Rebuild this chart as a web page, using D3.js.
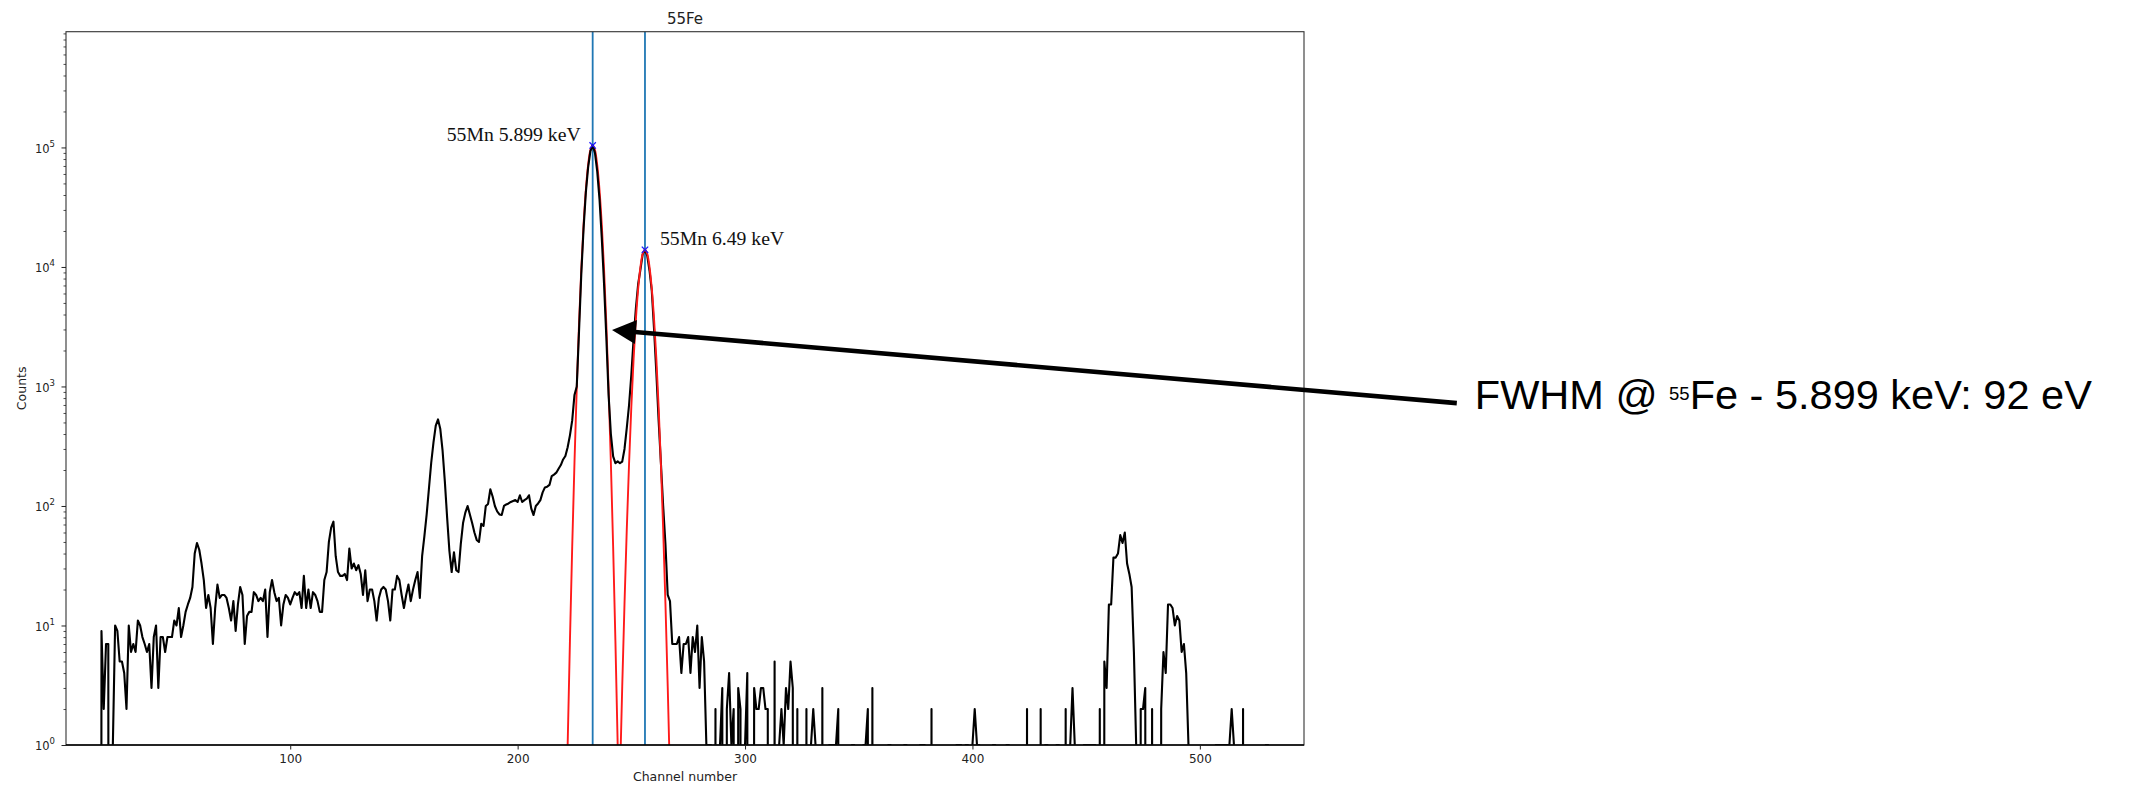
<!DOCTYPE html>
<html>
<head>
<meta charset="utf-8">
<script src="https://cdn.jsdelivr.net/npm/d3@7"></script>
<style>
  body { margin: 0; background: #fff; }
  svg { display: block; }
</style>
</head>
<body>
<svg id="chart" width="2135" height="787"></svg>
<script>
// ---------------- DATA ----------------
const firstChannel = 16;
// counts per channel, starting at channel 16 (0 = empty channel)
const counts = [
  0, 9, 2, 7,                                                   // 16-19
  7, 0, 1, 10, 9, 5, 5, 4, 2, 10,                               // 20-29
  6, 7, 6, 11, 10, 8, 7, 6, 7, 3,                               // 30-39
  8, 10, 3, 8, 8, 6, 8, 8, 8, 11,                               // 40-49
  10, 14, 8, 10, 13, 15, 17, 21, 40, 49,                        // 50-59
  43, 33, 24, 14, 18, 14, 7, 14, 22, 17,                        // 60-69
  18, 18, 17, 14, 11, 16, 9, 15, 21, 18,                        // 70-79
  7, 12, 13, 13, 19, 18, 16, 17, 16, 20,                        // 80-89
  8, 19, 24, 19, 16, 17, 10, 15, 18, 17,                        // 90-99
  15, 17, 19, 18, 19, 14, 26, 14, 20, 14,                       // 100-109
  19, 18, 16, 13, 13, 24, 28, 50, 66, 74,                       // 110-119
  38, 28, 26, 26, 27, 24, 44, 30, 33, 29,                       // 120-129
  32, 27, 18, 29, 16, 20, 20, 16, 11, 17,                       // 130-139
  20, 21, 20, 16, 11, 20, 20, 26, 24, 18,                       // 140-149
  14, 18, 22, 16, 20, 24, 28, 17, 38, 56,                       // 150-159
  85, 140, 230, 340, 470, 530, 440, 290, 160, 80,               // 160-169
  42, 28, 41, 29, 28, 48, 72, 88, 100, 85,                      // 170-179
  72, 60, 52, 50, 71, 68, 100, 104, 138, 120,                   // 180-189
  100, 90, 85, 84, 100, 103, 105, 108, 110, 112,                // 190-199
  108, 123, 108, 112, 115, 123, 95, 84, 100, 105,               // 200-209
  112, 130, 143, 145, 150, 178, 183, 190, 205, 220,             // 210-219
  245, 262, 310, 390, 520, 850, 1000, 2900, 8800, 21000,        // 220-229
  42000, 68000, 93000, 104000, 90000, 63000, 37000, 17500, 7200, 2600, // 230-239
  850, 400, 260, 228, 236, 228, 235, 300, 450, 700,             // 240-249
  1250, 2500, 4500, 7200, 9500, 12800, 13900, 12400, 9300, 6300, // 250-259
  3000, 1300, 520, 230, 100, 48, 18, 16, 7, 7,                  // 260-269
  7, 8, 4, 7, 7, 8, 4, 8, 6, 10,                                // 270-279
  3, 8, 5, 1, 1, 1, 0, 2, 0, 1,                                 // 280-289
  3, 0, 2, 4, 1, 2, 0, 3, 2, 0,                                 // 290-299
  1, 4, 0, 0, 3, 2, 2, 3, 3, 2,                                 // 300-309
  2, 0, 0, 5, 0, 1, 2, 1, 3, 2,                                 // 310-319
  5, 3, 0, 2, 0, 0, 0, 2, 0, 1,                                 // 320-329
  2, 1, 0, 0, 3, 0, 0, 1, 1, 1,                                 // 330-339
  1, 2, 0, 0, 0, 0, 0, 1, 1, 0,                                 // 340-349
  0, 0, 1, 1, 2, 0, 3, 0, 0, 0,                                 // 350-359
  0, 0, 0, 1, 1, 0, 0, 0, 0, 0,                                 // 360-369
  1, 1, 0, 0, 0, 0, 0, 1, 1, 1,                                 // 370-379
  0, 0, 2, 0, 0, 0, 0, 0, 0, 0,                                 // 380-389
  0, 0, 0, 1, 1, 1, 0, 1, 1, 0,                                 // 390-399
  1, 2, 1, 1, 0, 0, 0, 0, 0, 1,                                 // 400-409
  1, 0, 0, 0, 0, 1, 1, 0, 0, 0,                                 // 410-419
  0, 0, 0, 0, 2, 0, 0, 0, 0, 0,                                 // 420-429
  2, 0, 1, 1, 0, 0, 0, 1, 1, 0,                                 // 430-439
  0, 2, 0, 1, 3, 1, 0, 0, 0, 1,                                 // 440-449
  1, 1, 1, 1, 1, 0, 2, 0, 5, 3,                                 // 450-459
  15, 15, 37, 37, 40, 57, 49, 60, 33, 27,                       // 460-469
  21, 6, 1, 0, 2, 2, 3, 0, 0, 2,                                // 470-479
  0, 0, 0, 2, 6, 4, 15, 15, 14, 10,                             // 480-489
  12, 11, 6, 7, 4, 1, 0, 0, 0, 0,                               // 490-499
  0, 0, 0, 0, 0, 0, 0, 1, 1, 1,                                 // 500-509
  1, 1, 1, 1, 2, 1, 0, 0, 0, 2,                                 // 510-519
  0, 0, 0, 0, 0, 0, 0, 0, 0, 1,                                 // 520-529
  1, 0                                                          // 530-531
];

// Gaussian fit curves (red) at integer channels
const fit1Start = 220;
const fit1 = [0.0102, 0.11, 1.0, 7.4, 45.6, 231, 970, 3360, 9600, 22700, 44300, 71400, 95200,
              104700, 95200, 71400, 44300, 22700, 9600, 3360, 970, 231, 45.6, 7.4, 1.0, 0.11, 0.0102];
const fit2Start = 243;
const fit2 = [0.0093, 0.076, 0.53, 3.1, 15.3, 64, 226, 676, 1710, 3640, 6560, 9990, 12860,
              14000, 12860, 9990, 6560, 3640, 1710, 676, 226, 64, 15.3, 3.1, 0.53, 0.076, 0.0093];

// identified peaks
const peakChannels = [233, 256];
const peakCounts = [104000, 13900];
const peakLabels = ["55Mn 5.899 keV", "55Mn 6.49 keV"];

// axis ticks
const xTicks = [100, 200, 300, 400, 500];
const yTickExponents = [0, 1, 2, 3, 4, 5];

// annotation arrow (data coordinates)
const arrowTip = { channel: 241.5, counts: 2970 };
const arrowTail = { channel: 613, counts: 725 };
const fwhmText = { pre: "FWHM @ ", sup: "55", post: "Fe - 5.899 keV: 92 eV" };

const titleText = "55Fe";
const xLabel = "Channel number";
const yLabel = "Counts";

// ---------------- LAYOUT ----------------
const W = 2135, H = 787;
const plot = { left: 66, right: 1304, top: 31.7, bottom: 745 };
const x = d3.scaleLinear().domain([1.4, 545.8]).range([plot.left, plot.right]);
const y = d3.scaleLog().domain([1, 9.3e5]).range([plot.bottom, plot.top]);

const svg = d3.select("#chart");
svg.append("rect").attr("width", W).attr("height", H).attr("fill", "#fff");

svg.append("defs").append("clipPath").attr("id", "plotClip")
  .append("rect")
  .attr("x", plot.left).attr("y", plot.top)
  .attr("width", plot.right - plot.left).attr("height", plot.bottom - plot.top);

const safeY = v => y(v > 0 ? v : 1e-30);

// vertical peak lines
svg.append("g").selectAll("line").data(peakChannels).join("line")
  .attr("x1", d => x(d)).attr("x2", d => x(d))
  .attr("y1", plot.top).attr("y2", plot.bottom)
  .attr("stroke", "#1f77b4").attr("stroke-width", 1.8);

const gData = svg.append("g").attr("clip-path", "url(#plotClip)");

const fitLine = start => d3.line()
  .x((d, i) => x(start + i))
  .y(d => safeY(d))
  .curve(d3.curveCatmullRom);

// red fit 1 (under the spectrum)
gData.append("path").datum(fit1).attr("d", fitLine(fit1Start))
  .attr("fill", "none").attr("stroke", "#ff1a1a").attr("stroke-width", 1.9);

// spectrum
const specLine = d3.line()
  .x((d, i) => x(firstChannel + i))
  .y(d => safeY(d));
gData.append("path").datum(counts).attr("d", specLine)
  .attr("fill", "none").attr("stroke", "#000").attr("stroke-width", 2.1)
  .attr("stroke-linejoin", "round");

// red fit 2 (over the spectrum)
gData.append("path").datum(fit2).attr("d", fitLine(fit2Start))
  .attr("fill", "none").attr("stroke", "#ff1a1a").attr("stroke-width", 1.9);

// peak markers (x)
const mk = svg.append("g");
peakChannels.forEach((c, i) => {
  const px = x(c), py = y(peakCounts[i]), s = 3.2;
  mk.append("path")
    .attr("d", `M${px - s},${py - s}L${px + s},${py + s}M${px - s},${py + s}L${px + s},${py - s}`)
    .attr("stroke", "#1a1aff").attr("stroke-width", 1.3);
});

// peak labels
svg.append("text").attr("x", x(peakChannels[0]) - 12).attr("y", y(peakCounts[0]) - 4)
  .attr("text-anchor", "end")
  .attr("font-family", "'Liberation Serif', 'Times New Roman', serif").attr("font-size", 19.7)
  .attr("fill", "#111").text(peakLabels[0]);
svg.append("text").attr("x", x(peakChannels[1]) + 15).attr("y", y(peakCounts[1]) - 4.5)
  .attr("text-anchor", "start")
  .attr("font-family", "'Liberation Serif', 'Times New Roman', serif").attr("font-size", 19.7)
  .attr("fill", "#111").text(peakLabels[1]);

// frame
svg.append("rect")
  .attr("x", plot.left).attr("y", plot.top)
  .attr("width", plot.right - plot.left).attr("height", plot.bottom - plot.top)
  .attr("fill", "none").attr("stroke", "#333").attr("stroke-width", 1.1);
svg.append("line").attr("x1", plot.left).attr("x2", plot.right)
  .attr("y1", plot.bottom).attr("y2", plot.bottom)
  .attr("stroke", "#000").attr("stroke-width", 1.5);

// x axis
const xAxis = svg.append("g").attr("transform", `translate(0,${plot.bottom})`)
  .call(d3.axisBottom(x).tickValues(xTicks).tickSize(4.5).tickPadding(4.5).tickFormat(d3.format("d")));
xAxis.select(".domain").remove();
xAxis.selectAll("line").attr("stroke", "#222");
xAxis.selectAll("text").attr("font-family", "'DejaVu Sans', sans-serif").attr("font-size", 12).attr("fill", "#222");

// y axis ticks
const yMajors = yTickExponents.map(e => Math.pow(10, e));
const yMinors = [];
for (let e = 0; e <= 5; e++) for (let m = 2; m <= 9; m++) {
  const v = m * Math.pow(10, e);
  if (v <= y.domain()[1]) yMinors.push(v);
}
const yAxisMaj = svg.append("g").attr("transform", `translate(${plot.left},0)`)
  .call(d3.axisLeft(y).tickValues(yMajors).tickSize(4.5).tickFormat(""));
yAxisMaj.select(".domain").remove();
yAxisMaj.selectAll("line").attr("stroke", "#222");
const yAxisMin = svg.append("g").attr("transform", `translate(${plot.left},0)`)
  .call(d3.axisLeft(y).tickValues(yMinors).tickSize(2.5).tickFormat(""));
yAxisMin.select(".domain").remove();
yAxisMin.selectAll("line").attr("stroke", "#222").attr("stroke-width", 0.8);

const yLab = svg.append("g");
yTickExponents.forEach(e => {
  const t = yLab.append("text")
    .attr("x", 55).attr("y", y(Math.pow(10, e)) + 5.2)
    .attr("text-anchor", "end")
    .attr("font-family", "'DejaVu Sans', sans-serif").attr("font-size", 11.5).attr("fill", "#222");
  t.append("tspan").text("10");
  t.append("tspan").attr("dy", -6).attr("font-size", 8.5).text(String(e));
});

// titles
svg.append("text").attr("x", (plot.left + plot.right) / 2).attr("y", 24)
  .attr("text-anchor", "middle").attr("font-family", "'DejaVu Sans', sans-serif")
  .attr("font-size", 15).attr("fill", "#222").text(titleText);
svg.append("text").attr("x", (plot.left + plot.right) / 2).attr("y", 781)
  .attr("text-anchor", "middle").attr("font-family", "'DejaVu Sans', sans-serif")
  .attr("font-size", 12.5).attr("fill", "#222").text(xLabel);
svg.append("text").attr("transform", `translate(25.5,${(plot.top + plot.bottom) / 2}) rotate(-90)`)
  .attr("text-anchor", "middle").attr("font-family", "'DejaVu Sans', sans-serif")
  .attr("font-size", 12.5).attr("fill", "#222").text(yLabel);

// annotation arrow
const tip = [x(arrowTip.channel), y(arrowTip.counts)];
const tail = [x(arrowTail.channel), y(arrowTail.counts)];
const dx = tail[0] - tip[0], dy = tail[1] - tip[1];
const len = Math.hypot(dx, dy);
const ux = dx / len, uy = dy / len, nx = -uy, ny = ux;
const headLen = 24, headHalf = 12;
const base = [tip[0] + ux * headLen, tip[1] + uy * headLen];
svg.append("line").attr("x1", base[0] - ux * 1).attr("y1", base[1] - uy * 1)
  .attr("x2", tail[0]).attr("y2", tail[1])
  .attr("stroke", "#000").attr("stroke-width", 4.6);
svg.append("path")
  .attr("d", `M${tip[0]},${tip[1]}L${base[0] + nx * headHalf},${base[1] + ny * headHalf}L${base[0] - nx * headHalf},${base[1] - ny * headHalf}Z`)
  .attr("fill", "#000");

const ft = svg.append("text").attr("x", tail[0] + 18).attr("y", tail[1] + 6)
  .attr("font-family", "'Liberation Sans', Arial, Helvetica, sans-serif")
  .attr("font-size", 41.5).attr("fill", "#000");
ft.append("tspan").text(fwhmText.pre);
ft.append("tspan").attr("font-size", 18.5).attr("dy", -9.3).text(fwhmText.sup);
ft.append("tspan").attr("dy", 9.3).text(fwhmText.post);
</script>
</body>
</html>
